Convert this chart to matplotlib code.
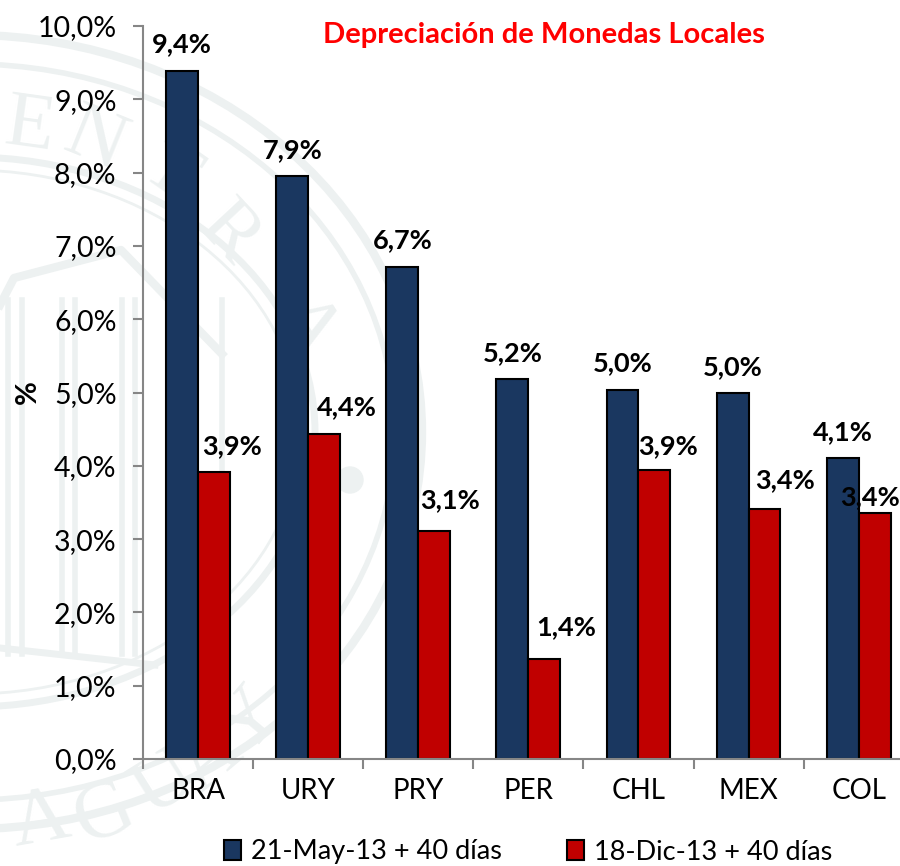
import matplotlib
matplotlib.use('Agg')
import matplotlib.pyplot as plt
import numpy as np
from matplotlib.patches import Circle, Ellipse, Patch, Polygon

plt.rcParams['font.family'] = ['Lato', 'DejaVu Sans']

paises = ["BRA", "URY", "PRY", "PER", "CHL", "MEX", "COL"]
mayo = [9.38, 7.95, 6.71, 5.18, 5.04, 4.99, 4.11]
diciembre = [3.91, 4.43, 3.11, 1.37, 3.94, 3.41, 3.36]
etiq_mayo = ["9,4%", "7,9%", "6,7%", "5,2%", "5,0%", "5,0%", "4,1%"]
etiq_dic = ["3,9%", "4,4%", "3,1%", "1,4%", "3,9%", "3,4%", "3,4%"]
y_ticks = [0, 1, 2, 3, 4, 5, 6, 7, 8, 9, 10]
y_labels = ["0,0%", "1,0%", "2,0%", "3,0%", "4,0%", "5,0%", "6,0%", "7,0%", "8,0%", "9,0%", "10,0%"]

# where the labels sit relative to the bar top, in pixels
offset_mayo = [(0, 27), (0, 26), (0, 27), (0, 26), (0, 26), (0, 26), (0, 26)]
offset_dic = [(18, 26), (23, 27), (16, 31), (22, 31), (14, 24), (21, 29), (-5, 16)]

AZUL = "#1a3760"
ROJO = "#c00000"
GRIS = "#868686"
SELLO = "#edf1f1"

fig = plt.figure(figsize=(9, 8.66), dpi=100)

# faint seal behind the chart, in pixel coordinates
bg = fig.add_axes([0, 0, 1, 1], zorder=0)
bg.set_xlim(0, 900)
bg.set_ylim(866, 0)
bg.axis('off')
for rx, ry, lw in [(452, 397, 6), (425, 368, 4), (345, 275, 5), (330, 262, 2)]:
    bg.add_patch(Ellipse((-30, 432), rx * 2, ry * 2, fill=False, ec=SELLO, lw=lw))
letras = ["E", "N", "T", "R", "A", "A", "G", "U", "A", "Y"]
letra_x = [30, 95, 170, 228, 305, 40, 105, 165, 210, 252]
letra_y = [128, 142, 172, 235, 325, 822, 815, 785, 760, 722]
letra_rot = [-8, -22, -35, -47, -58, 10, 22, 32, 40, 50]
for l, lx, ly, rot in zip(letras, letra_x, letra_y, letra_rot):
    bg.text(lx, ly, l, color=SELLO, fontsize=58, family=['Liberation Serif'],
            ha='center', va='center', rotation=rot)
for xp in [8, 22, 62, 75, 122, 135, 222]:
    bg.plot([xp, xp], [300, 654], color=SELLO, lw=4)
bg.plot([0, 14, 121, 222], [305, 278, 250, 354], color=SELLO, lw=6)
bg.plot([0, 155], [648, 665], color=SELLO, lw=5)
bg.add_patch(Circle((350, 480), 13, color=SELLO))

ax = fig.add_axes([143 / 900, 107 / 866, 757 / 900, 733 / 866], zorder=1)
ax.patch.set_alpha(0)
x = np.arange(len(paises)) + 0.5
ancho = 0.29
b1 = ax.bar(x - ancho / 2, mayo, ancho, color=AZUL, edgecolor="black", linewidth=1.5,
            label="21-May-13 + 40 días", zorder=2)
b2 = ax.bar(x + ancho / 2, diciembre, ancho, color=ROJO, edgecolor="black", linewidth=1.5,
            label="18-Dic-13 + 40 días", zorder=2)

for i, pos in enumerate(x):
    ax.annotate(etiq_mayo[i], (pos - ancho / 2, mayo[i]), xytext=offset_mayo[i],
                textcoords='offset pixels', ha='center', va='center',
                fontsize=19.5, fontweight='bold', zorder=5)
    ax.annotate(etiq_dic[i], (pos + ancho / 2, diciembre[i]), xytext=offset_dic[i],
                textcoords='offset pixels', ha='center', va='center',
                fontsize=19.5, fontweight='bold', zorder=5)

ax.set_xlim(0, 757 / 110.1)
ax.set_ylim(0, 10)
ax.set_yticks(y_ticks)
ax.set_yticklabels(y_labels, fontsize=20.5)
ax.set_xticks(np.arange(len(paises)))
ax.set_xticklabels([])
ax.set_xticks(x, minor=True)
ax.set_xticklabels(paises, minor=True, fontsize=20)
ax.tick_params(axis='y', length=7, width=1.5, color=GRIS, pad=12)
ax.tick_params(axis='x', which='major', length=7, width=1.5, color=GRIS)
ax.tick_params(axis='x', which='minor', length=0, pad=14)
for s in ['top', 'right']:
    ax.spines[s].set_visible(False)
for s in ['left', 'bottom']:
    ax.spines[s].set_color(GRIS)
    ax.spines[s].set_linewidth(1.5)

fig.text(28 / 900, 1 - 392 / 866, "%", rotation=90, fontsize=21, fontweight='bold',
         ha='center', va='center', zorder=3)
fig.text(544 / 900, 1 - 35 / 866, "Depreciación de Monedas Locales", color="#ff0000",
         fontsize=21, fontweight='bold', ha='center', va='center', zorder=3)

fig.legend(handles=[b1, b2], loc='center', bbox_to_anchor=(528 / 900, 1 - 852 / 866), ncol=2,
           frameon=False, fontsize=19.5, handlelength=0.65, handleheight=0.8,
           handletextpad=0.35, columnspacing=2.4, borderpad=0)

fig.savefig("out.png", dpi=100)
